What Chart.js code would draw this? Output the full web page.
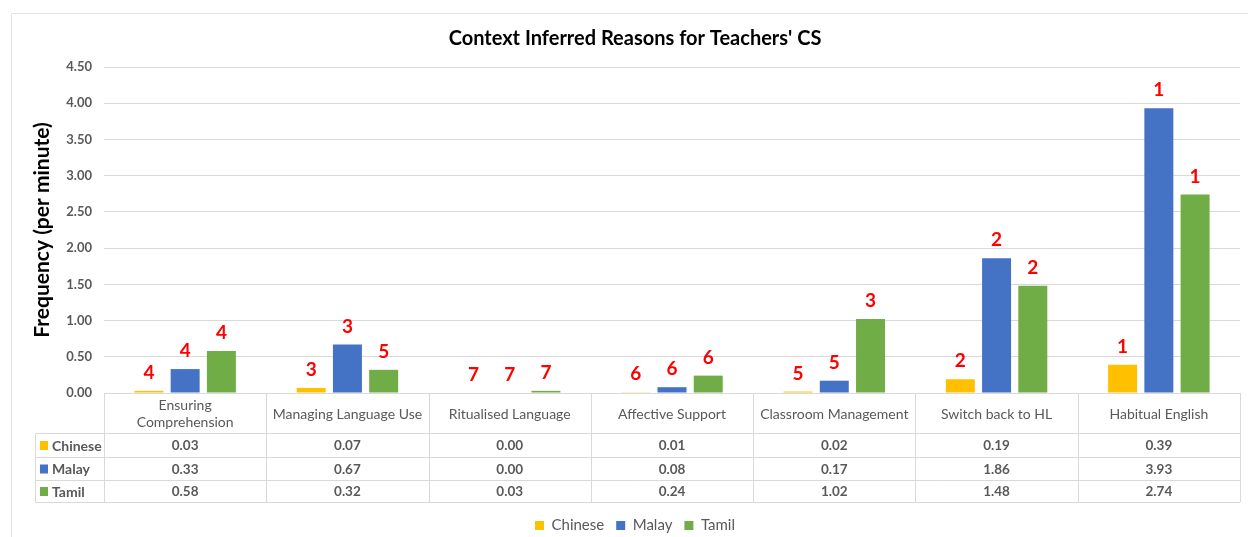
<!DOCTYPE html>
<html>
<head>
<meta charset="utf-8">
<script src="https://cdn.jsdelivr.net/npm/chart.js@4/dist/chart.umd.min.js"></script>
<style>
  html, body { margin: 0; padding: 0; background: #fff; }
  #wrap { width: 1248px; height: 537px; }
</style>
</head>
<body>
<div id="wrap"><canvas id="csChart" width="1248" height="537"></canvas></div>
<script>
// categories and series
const categories = [
    ['Ensuring', 'Comprehension'],
    'Managing Language Use',
    'Ritualised Language',
    'Affective Support',
    'Classroom Management',
    'Switch back to HL',
    'Habitual English'
];
const chineseValues = [0.03, 0.07, 0.00, 0.01, 0.02, 0.19, 0.39];
const malayValues   = [0.33, 0.67, 0.00, 0.08, 0.17, 1.86, 3.93];
const tamilValues   = [0.58, 0.32, 0.03, 0.24, 1.02, 1.48, 2.74];

// red rank numbers shown above each bar
const chineseRanks = [4, 3, 7, 6, 5, 2, 1];
const malayRanks   = [4, 3, 7, 6, 5, 2, 1];
const tamilRanks   = [4, 5, 7, 6, 3, 2, 1];

const yTickMin = 0, yTickMax = 4.5, yTickStep = 0.5;

const FONT = 'Lato, Carlito, "Liberation Sans", sans-serif';
const GRAY = '#595959';
const LINE = '#d9d9d9';

// rank labels above bars
const rankLabels = {
    id: 'rankLabels',
    afterDatasetsDraw(chart) {
        const ctx = chart.ctx;
        ctx.save();
        ctx.font = 'bold 19px ' + FONT;
        ctx.fillStyle = '#ff0000';
        ctx.textAlign = 'center';
        ctx.textBaseline = 'middle';
        chart.data.datasets.forEach((ds, di) => {
            const meta = chart.getDatasetMeta(di);
            meta.data.forEach((bar, i) => {
                ctx.fillText(String(ds.ranks[i]), bar.x, bar.y - 18);
            });
        });
        ctx.restore();
    }
};

// data table under the plot
const dataTable = {
    id: 'dataTable',
    beforeDraw(chart) {
        // faint outer frame
        const ctx = chart.ctx;
        ctx.save();
        ctx.strokeStyle = '#e3e3e3';
        ctx.lineWidth = 1;
        ctx.beginPath();
        ctx.moveTo(11.5, 537);
        ctx.lineTo(11.5, 13.5);
        ctx.lineTo(1248, 13.5);
        ctx.stroke();
        ctx.restore();
    },
    afterDraw(chart) {
        const ctx = chart.ctx;
        const area = chart.chartArea;
        const n = categories.length;
        const colW = (area.right - area.left) / n;
        const top = area.bottom;
        const headH = 40;
        const rowH = [24, 23, 22];
        const tableLeft = 35;
        const rows = chart.data.datasets;

        ctx.save();
        ctx.strokeStyle = LINE;
        ctx.lineWidth = 1;

        // horizontal lines
        let y = top + headH;
        const hy = [y];
        rowH.forEach(h => { y += h; hy.push(y); });
        ctx.beginPath();
        ctx.moveTo(area.left, Math.round(top) + 0.5);
        ctx.lineTo(area.right, Math.round(top) + 0.5);
        hy.forEach(v => {
            ctx.moveTo(tableLeft, Math.round(v) + 0.5);
            ctx.lineTo(area.right, Math.round(v) + 0.5);
        });
        // vertical lines
        for (let i = 0; i <= n; i++) {
            const x = Math.round(area.left + i * colW) + 0.5;
            ctx.moveTo(x, top);
            ctx.lineTo(x, hy[hy.length - 1]);
        }
        ctx.moveTo(tableLeft + 0.5, hy[0]);
        ctx.lineTo(tableLeft + 0.5, hy[hy.length - 1]);
        ctx.stroke();

        // header labels
        ctx.fillStyle = GRAY;
        ctx.textAlign = 'center';
        ctx.textBaseline = 'middle';
        ctx.font = '14px ' + FONT;
        const xs = chart.scales.x;
        categories.forEach((c, i) => {
            const cx = xs.getPixelForValue(i);
            const lines = Array.isArray(c) ? c : [c];
            const lh = 17;
            const y0 = top + headH / 2 - (lines.length - 1) * lh / 2 + 1;
            lines.forEach((l, k) => ctx.fillText(l, cx, y0 + k * lh));
        });

        // rows
        rows.forEach((ds, r) => {
            const cy = (hy[r] + hy[r + 1]) / 2 + 1;
            ctx.fillStyle = ds.backgroundColor;
            ctx.fillRect(tableLeft + 5, cy - 5, 8, 9);
            ctx.fillStyle = GRAY;
            ctx.font = 'bold 14px ' + FONT;
            ctx.textAlign = 'left';
            ctx.fillText(ds.label, tableLeft + 17, cy);
            ctx.textAlign = 'center';
            ctx.font = 'bold 13.5px ' + FONT;
            ds.data.forEach((v, i) => {
                ctx.fillText(v.toFixed(2), xs.getPixelForValue(i), cy);
            });
        });
        ctx.restore();
    }
};

new Chart(document.getElementById('csChart'), {
    type: 'bar',
    data: {
        labels: categories,
        datasets: [
            { label: 'Chinese', data: chineseValues, ranks: chineseRanks, backgroundColor: '#ffc000' },
            { label: 'Malay', data: malayValues, ranks: malayRanks, backgroundColor: '#4472c4' },
            { label: 'Tamil', data: tamilValues, ranks: tamilRanks, backgroundColor: '#70ad47' }
        ]
    },
    options: {
        responsive: false,
        animation: false,
        devicePixelRatio: 1,
        categoryPercentage: 0.67,
        barPercentage: 0.8,
        layout: { padding: { top: 27, left: 30, right: 8, bottom: -6 } },
        plugins: {
            title: {
                display: true,
                text: "Context Inferred Reasons for Teachers' CS",
                color: '#000',
                font: { family: FONT, size: 20, weight: 'bold' },
                padding: { top: 0, bottom: 16 }
            },
            legend: {
                position: 'bottom',
                labels: {
                    color: GRAY,
                    font: { family: FONT, size: 15 },
                    boxWidth: 9,
                    boxHeight: 9,
                    padding: 12
                }
            },
            tooltip: { enabled: false }
        },
        scales: {
            x: {
                grid: { display: false },
                border: { display: false },
                ticks: { display: false },
                afterFit(scale) { scale.height = 113; }
            },
            y: {
                min: yTickMin,
                max: yTickMax,
                ticks: {
                    stepSize: yTickStep,
                    color: GRAY,
                    font: { family: FONT, size: 13, weight: 'bold' },
                    padding: 12,
                    callback: v => v.toFixed(2)
                },
                grid: { color: LINE, drawTicks: false },
                border: { display: false },
                title: {
                    display: true,
                    text: 'Frequency (per minute)',
                    color: '#000',
                    font: { family: FONT, size: 21, weight: 'bold' },
                    padding: { top: 0, bottom: 0 }
                },
                afterFit(scale) { scale.width = 74; }
            }
        }
    },
    plugins: [rankLabels, dataTable]
});
</script>
</body>
</html>
